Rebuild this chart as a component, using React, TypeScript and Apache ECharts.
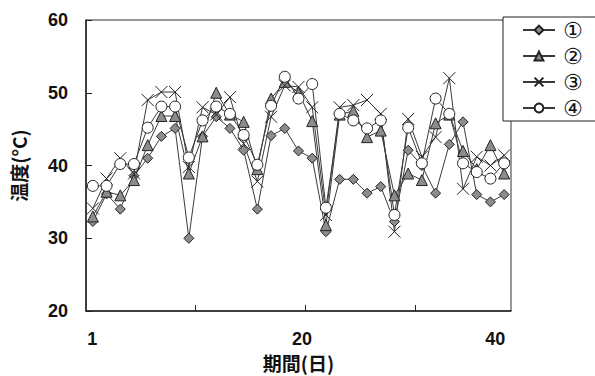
import React, { useEffect, useRef } from "react";
import * as echarts from "echarts";

// sample index (31 measurements)
const days: number[] = Array.from({ length: 31 }, (_, i) => i + 1);

const seriesNames = ["①", "②", "③", "④"];

const s1 = [32.3, 36.1, 34.0, 38.6, 41.0, 44.0, 45.1, 30.0, 44.0, 46.7, 45.1, 42.1, 34.0, 44.1, 45.1, 42.0, 41.0, 30.9, 38.1, 38.1, 36.2, 37.1, 32.3, 42.1, 40.0, 36.2, 42.9, 46.0, 36.0, 35.0, 36.0];
const s2 = [33.0, 36.4, 35.9, 38.0, 42.8, 46.8, 46.8, 38.9, 44.0, 50.0, 47.0, 46.0, 39.5, 49.2, 51.5, 50.0, 46.1, 31.8, 47.0, 47.5, 43.9, 44.8, 35.9, 38.9, 38.0, 45.8, 47.0, 42.0, 39.5, 42.8, 38.9];
const s3 = [34.1, 38.2, 41.0, 38.9, 49.0, 50.1, 50.1, 39.8, 48.0, 47.0, 49.4, 43.0, 37.8, 46.7, 51.0, 50.8, 48.0, 33.2, 48.0, 48.3, 49.0, 47.1, 30.9, 46.4, 41.2, 43.9, 52.0, 36.8, 41.2, 40.0, 41.4];
const s4 = [37.2, 37.2, 40.2, 40.2, 45.2, 48.1, 48.1, 41.1, 46.2, 48.1, 47.1, 44.2, 40.1, 48.2, 52.2, 49.2, 51.2, 34.2, 47.1, 46.2, 45.1, 46.2, 33.2, 45.2, 40.3, 49.2, 47.1, 40.3, 39.1, 38.2, 40.3];

const xLabelTexts = ["1", "20", "40"];
const xLabelPos = [0.45, 15.75, 29.85];
const xTickPos = [8, 16, 24];

const yMin = 20;
const yMax = 60;
const yStep = 10;

const FONT = "'Liberation Sans', Arial, sans-serif";
const CJK = "'Noto Sans CJK JP', sans-serif";

export default function App() {
  const ref = useRef<HTMLDivElement>(null);
  useEffect(() => {
    if (!ref.current) return;
    const chart = echarts.init(ref.current, undefined, { renderer: "svg" });
    const toPts = (arr: number[]) => arr.map((v, i) => [days[i] - 0.5, v]);
    const lineStyle = { color: "#3a3a3a", width: 1 };
    const mk = (name: string, data: number[], symbol: string, size: number, fill: string) => ({
      name,
      type: "line",
      data: toPts(data),
      symbol,
      symbolSize: size,
      showAllSymbol: true,
      lineStyle,
      itemStyle: { color: fill, borderColor: "#222", borderWidth: 1 },
      emphasis: { disabled: true },
    });
    chart.setOption({
      animation: false,
      backgroundColor: "#fff",
      grid: {
        left: 86,
        top: 20,
        right: 84,
        bottom: 65,
        outerBoundsMode: "none",
        containLabel: false,
        show: true,
        borderColor: "#333",
        borderWidth: 1,
      },
      legend: {
        orient: "vertical",
        left: 503,
        top: 17,
        width: 92,
        backgroundColor: "#fff",
        borderColor: "#222",
        borderWidth: 1,
        padding: [2, 14, 2, 19],
        itemWidth: 32,
        itemHeight: 11,
        itemGap: 4,
        textStyle: {
          fontFamily: "'DejaVu Sans', sans-serif",
          fontSize: 22,
          lineHeight: 22,
          color: "#111",
          padding: [0, 0, 0, 3],
        },
        data: seriesNames,
      },
      xAxis: {
        type: "value",
        min: 0,
        max: 31,
        splitLine: { show: false },
        axisLine: { lineStyle: { color: "#222", width: 1.5 } },
        axisTick: { inside: true, length: 6, customValues: xTickPos, lineStyle: { color: "#222" } },
        axisLabel: {
          customValues: xLabelPos,
          margin: 19,
          fontFamily: FONT,
          fontWeight: "bold",
          fontSize: 18,
          color: "#111",
          formatter: (v: number) => {
            let best = 0;
            xLabelPos.forEach((p, i) => {
              if (Math.abs(p - v) < Math.abs(xLabelPos[best] - v)) best = i;
            });
            return xLabelTexts[best];
          },
        },
        name: "期間(日)",
        nameLocation: "middle",
        nameGap: 41,
        nameTextStyle: { fontFamily: CJK, fontWeight: "bold", fontSize: 19, lineHeight: 20, color: "#111" },
      },
      yAxis: {
        type: "value",
        min: yMin,
        max: yMax,
        interval: yStep,
        splitLine: { show: false },
        axisLine: { show: true, lineStyle: { color: "#222", width: 1.5 } },
        axisTick: { show: true, inside: true, length: 6, lineStyle: { color: "#222" } },
        axisLabel: {
          margin: 18,
          fontFamily: FONT,
          fontWeight: "bold",
          fontSize: 18,
          color: "#111",
        },
        name: "温度(°C)",
        nameLocation: "middle",
        nameGap: 58,
        nameRotate: 90,
        nameTextStyle: { fontFamily: CJK, fontWeight: "bold", fontSize: 19, color: "#111" },
      },
      series: [
        mk(seriesNames[0], s1, "diamond", 10, "#8c8c8c"),
        mk(seriesNames[1], s2, "triangle", 11, "#8c8c8c"),
        mk(seriesNames[2], s3, "path://M0,0L10,10M10,0L0,10", 12, "none"),
        mk(seriesNames[3], s4, "circle", 11, "#ffffff"),
      ],
    });
    return () => chart.dispose();
  }, []);
  return (
    <div
      ref={ref}
      style={{ position: "fixed", left: 0, top: 0, width: 595, height: 376, background: "#fff" }}
    />
  );
}
